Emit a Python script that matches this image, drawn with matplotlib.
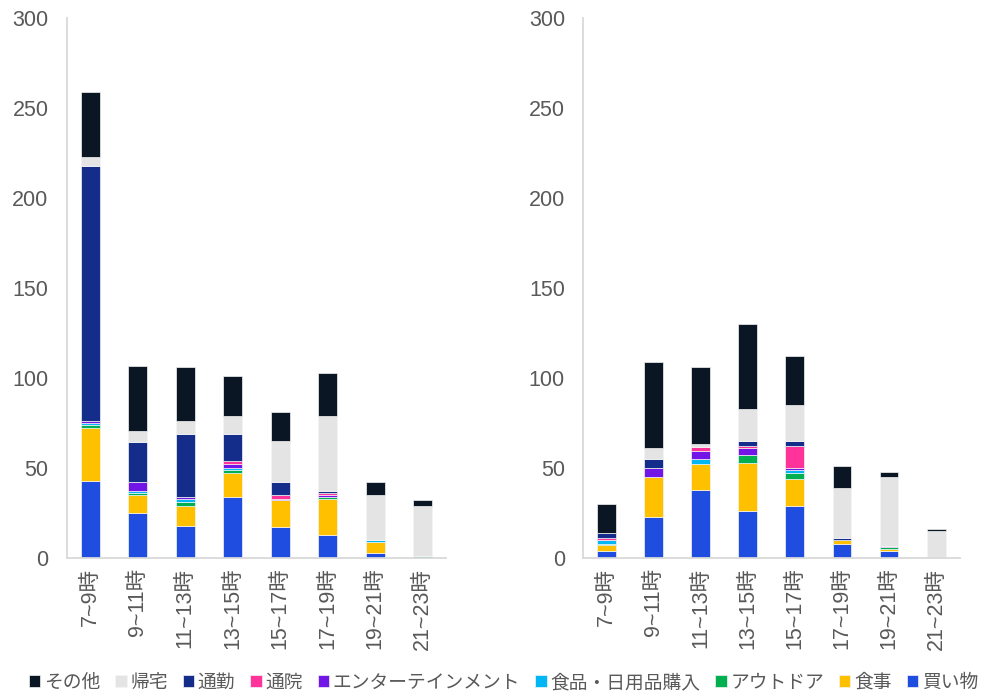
import numpy as np
from matplotlib import pyplot as plt

plt.rcParams['font.family'] = ['Liberation Sans', 'Noto Sans CJK JP']

hours = ['7~9時', '9~11時', '11~13時', '13~15時', '15~17時', '17~19時', '19~21時', '21~23時']

# stacking order, bottom to top
purposes = ['買い物', '食事', 'アウトドア', '食品・日用品購入', 'エンターテインメント', '通院', '通勤', '帰宅', 'その他']
colors = ['#1f4de0', '#ffc000', '#00b050', '#00b6f5', '#7216e8', '#ff3399', '#142d8a', '#e4e4e4', '#0b1624']

# left chart
left_shop = [43, 25, 18, 34, 17, 13, 3, 0]
left_meal = [29, 10, 11, 13, 15, 20, 6, 0]
left_outdoor = [2, 1, 2, 2, 0.5, 1, 0, 1]
left_goods = [1, 1.5, 2, 1, 0, 0, 1, 0]
left_ent = [1, 5, 1, 2, 0.5, 1, 0, 0]
left_hosp = [0, 0, 0, 2, 2, 1, 0, 0]
left_commute = [142, 22, 35, 15, 7, 1, 0, 0]
left_home = [5, 6, 7, 10, 23, 42, 25, 28]
left_other = [36, 36, 30, 22, 16, 24, 7, 3]

# right chart
right_shop = [4, 23, 38, 26, 29, 8, 4, 0]
right_meal = [3.5, 22, 14, 27, 15, 2, 1, 0]
right_outdoor = [0.5, 0, 0, 4, 3, 0, 1, 0]
right_goods = [2, 0, 3, 0, 2, 0, 0, 0]
right_ent = [0, 5, 4.5, 4, 1, 0, 0.5, 0]
right_hosp = [1, 0, 2, 1, 12, 0, 0, 0]
right_commute = [3, 5, 0, 3, 3, 1, 0, 0]
right_home = [0, 6, 2, 18, 20, 28, 38.5, 15]
right_other = [16, 48, 42.5, 47, 27, 12, 3, 1]

left_series = [left_shop, left_meal, left_outdoor, left_goods, left_ent,
               left_hosp, left_commute, left_home, left_other]
right_series = [right_shop, right_meal, right_outdoor, right_goods, right_ent,
                right_hosp, right_commute, right_home, right_other]

fig = plt.figure(figsize=(9.99, 6.97), dpi=100)
ax_l = fig.add_axes([0.0667, 0.1994, 0.380, 0.7746])
ax_r = fig.add_axes([0.5836, 0.1994, 0.377, 0.7746])

x = np.arange(len(hours))
handles = []
for ax, series in [(ax_l, left_series), (ax_r, right_series)]:
    bottom = np.zeros(len(hours))
    handles = []
    for name, vals, c in zip(purposes, series, colors):
        vals = np.array(vals, dtype=float)
        b = ax.bar(x, vals, width=0.4, bottom=bottom, color=c, label=name,
                   edgecolor='#f4f4f4', linewidth=0.5)
        handles.append(b)
        bottom += vals

    ax.set_xlim(-0.5, 7.5)
    ax.set_ylim(0, 300)
    ax.set_yticks(range(0, 301, 50))
    ax.set_xticks(x)
    ax.set_xticklabels(hours, rotation=90)
    ax.tick_params(length=0, labelsize=15.5, labelcolor='#595959')
    ax.tick_params(axis='y', pad=13)
    ax.tick_params(axis='x', pad=7)
    for s in ['top', 'right']:
        ax.spines[s].set_visible(False)
    for s in ['left', 'bottom']:
        ax.spines[s].set_color('#d9d9d9')
        ax.spines[s].set_linewidth(1.3)

fig.legend(handles[::-1], purposes[::-1], loc='center', bbox_to_anchor=(0.504, 1 - 683 / 697),
           ncol=9, frameon=False, fontsize=13.5, handlelength=0.6, handleheight=0.6,
           handletextpad=0.2, columnspacing=0.8, labelcolor='#595959')

fig.savefig('out.png', dpi=100)
